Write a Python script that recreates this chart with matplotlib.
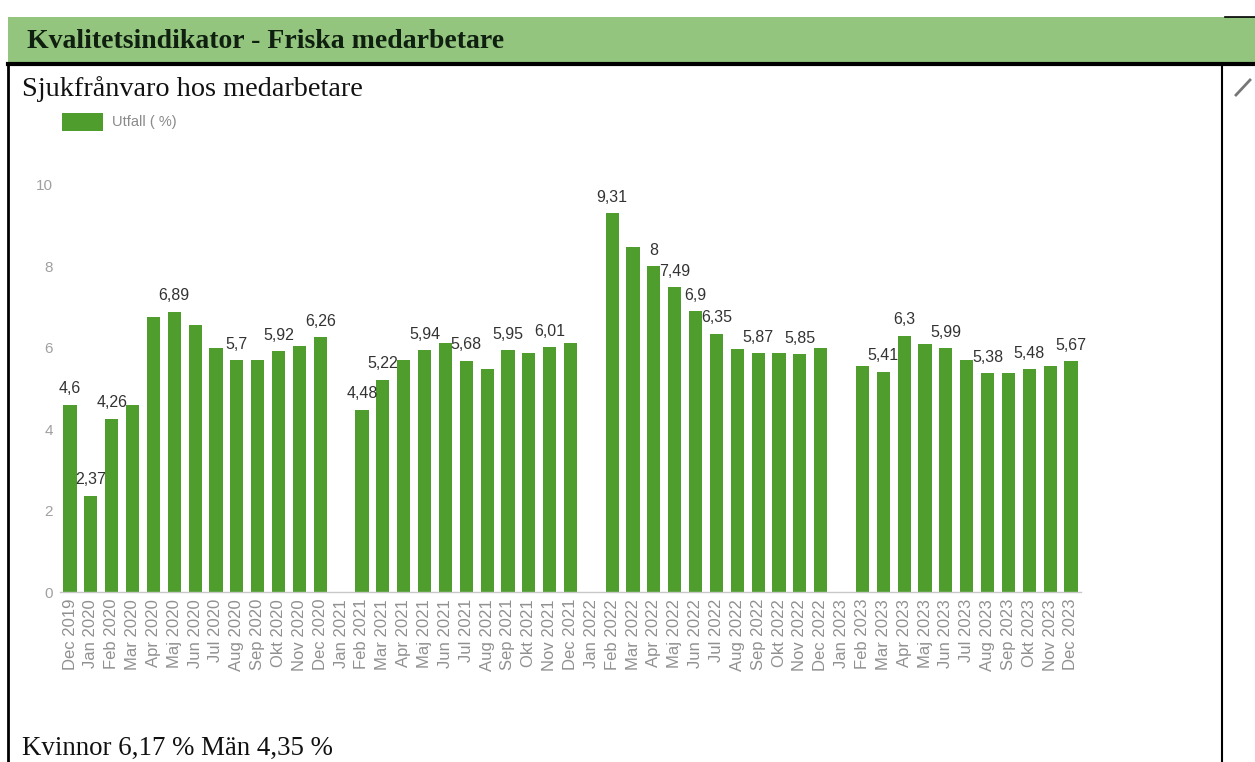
import matplotlib
matplotlib.use("Agg")
import matplotlib.pyplot as plt
from matplotlib.patches import Rectangle
from matplotlib.lines import Line2D

# ---------------- data ----------------
months = ["Dec 2019",
          "Jan 2020", "Feb 2020", "Mar 2020", "Apr 2020", "Maj 2020", "Jun 2020",
          "Jul 2020", "Aug 2020", "Sep 2020", "Okt 2020", "Nov 2020", "Dec 2020",
          "Jan 2021", "Feb 2021", "Mar 2021", "Apr 2021", "Maj 2021", "Jun 2021",
          "Jul 2021", "Aug 2021", "Sep 2021", "Okt 2021", "Nov 2021", "Dec 2021",
          "Jan 2022", "Feb 2022", "Mar 2022", "Apr 2022", "Maj 2022", "Jun 2022",
          "Jul 2022", "Aug 2022", "Sep 2022", "Okt 2022", "Nov 2022", "Dec 2022",
          "Jan 2023", "Feb 2023", "Mar 2023", "Apr 2023", "Maj 2023", "Jun 2023",
          "Jul 2023", "Aug 2023", "Sep 2023", "Okt 2023", "Nov 2023", "Dec 2023"]

utfall = [4.6,
          2.37, 4.26, 4.6, 6.76, 6.89, 6.55,
          6.0, 5.7, 5.69, 5.92, 6.04, 6.26,
          0.0, 4.48, 5.22, 5.7, 5.94, 6.13,
          5.68, 5.48, 5.95, 5.87, 6.01, 6.12,
          0.0, 9.31, 8.47, 8.0, 7.49, 6.9,
          6.35, 5.96, 5.87, 5.87, 5.85, 6.0,
          0.0, 5.56, 5.41, 6.3, 6.09, 5.99,
          5.69, 5.38, 5.37, 5.48, 5.56, 5.67]

labelled = ["Dec 2019", "Jan 2020", "Feb 2020", "Maj 2020", "Aug 2020", "Okt 2020",
            "Dec 2020", "Feb 2021", "Mar 2021", "Maj 2021", "Jul 2021", "Sep 2021",
            "Nov 2021", "Feb 2022", "Apr 2022", "Maj 2022", "Jun 2022", "Jul 2022",
            "Sep 2022", "Nov 2022", "Mar 2023", "Apr 2023", "Jun 2023", "Aug 2023",
            "Okt 2023", "Dec 2023"]

yticks = [0, 2, 4, 6, 8, 10]

header_title = "Kvalitetsindikator - Friska medarbetare"
chart_title = "Sjukfrånvaro hos medarbetare"
legend_label = "Utfall ( %)"
footer_text = "Kvinnor 6,17 % Män 4,35 %"

# ---------------- figure ----------------
W, H = 1255, 762
fig = plt.figure(figsize=(W / 100, H / 100), dpi=100)
fig.patch.set_facecolor("white")


def fx(x):
    return x / W


def fy(y):
    return 1 - y / H


tf = fig.transFigure
serif = ["Liberation Serif", "DejaVu Serif"]
sans = ["Liberation Sans", "DejaVu Sans"]

# header bar
fig.patches.append(Rectangle((fx(8), fy(62)), fx(W) - fx(8), fy(17) - fy(62),
                             transform=tf, facecolor="#93c57e", edgecolor="none", zorder=0))
fig.lines.append(Line2D([fx(8), fx(W)], [fy(64), fy(64)], transform=tf, color="black", lw=3))
fig.lines.append(Line2D([fx(1225), fx(W)], [fy(17), fy(17)], transform=tf, color="black", lw=1.2))
# panel borders
fig.lines.append(Line2D([fx(8), fx(8)], [fy(64), fy(H)], transform=tf, color="black", lw=2))
fig.lines.append(Line2D([fx(1222), fx(1222)], [fy(64), fy(H)], transform=tf, color="black", lw=1.5))
# small arrow at top right
fig.lines.append(Line2D([fx(1236), fx(1250)], [fy(95), fy(80)], transform=tf, color="#777777", lw=2))

fig.text(fx(27), fy(41), header_title, transform=tf, fontsize=20, fontweight="bold",
         family=serif, color="#102010", va="center", ha="left")
fig.text(fx(22), fy(89), chart_title, transform=tf, fontsize=20.3,
         family=serif, color="#111111", va="center", ha="left")
fig.text(fx(22), fy(748), footer_text, transform=tf, fontsize=19.4,
         family=serif, color="#111111", va="center", ha="left")

# legend
fig.patches.append(Rectangle((fx(62), fy(131)), fx(103) - fx(62), fy(113) - fy(131),
                             transform=tf, facecolor="#4e9d2d", edgecolor="none"))
fig.text(fx(112), fy(122), legend_label, transform=tf, fontsize=10.5,
         family=sans, color="#8a8a8a", va="center", ha="left")

# ---------------- axes ----------------
bar_color = "#4e9d2d"
ax = fig.add_axes([fx(59.6), fy(592), fx(1081.4) - fx(59.6), fy(185) - fy(592)])
x = list(range(len(months)))
ax.bar(x, utfall, width=0.63, color=bar_color, zorder=2)
ax.set_xlim(-0.5, len(months) - 0.5)
ax.set_ylim(0, 10)
ax.set_yticks(yticks)
ax.set_yticklabels([str(t) for t in yticks], fontsize=11, color="#a0a0a0", family=sans)
ax.set_xticks(x)
ax.set_xticklabels(months, rotation=90, fontsize=12, color="#909090", family=sans)
ax.tick_params(axis="both", length=0)
ax.tick_params(axis="y", pad=5)
ax.tick_params(axis="x", pad=5)
for s in ["top", "right", "left"]:
    ax.spines[s].set_visible(False)
ax.spines["bottom"].set_color("#c8c8c8")
ax.spines["bottom"].set_linewidth(1.0)
ax.set_facecolor("none")

for i, (m, v) in enumerate(zip(months, utfall)):
    if m in labelled:
        txt = f"{v:g}".replace(".", ",")
        ax.annotate(txt, (i, v), xytext=(0, 6), textcoords="offset points",
                    ha="center", va="bottom", fontsize=11.5, color="#333333",
                    family=sans, clip_on=False)

fig.savefig("out.png", dpi=100, facecolor="white")
